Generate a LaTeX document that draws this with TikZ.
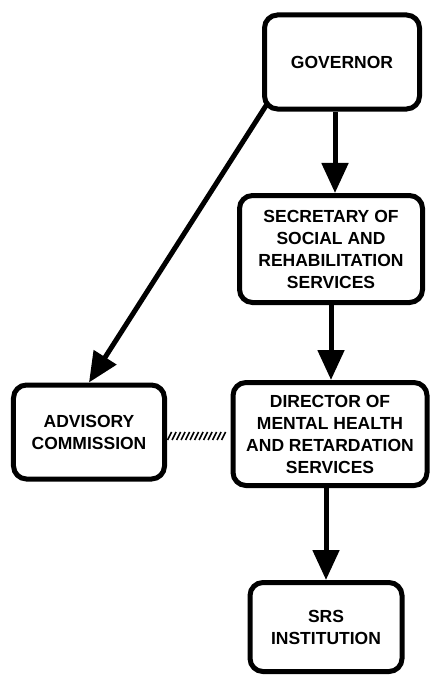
\documentclass[tikz,border=0pt]{standalone}
\usepackage{fontspec}
\setmainfont{Liberation Sans}
\usetikzlibrary{arrows.meta,decorations.markings}

\begin{document}
\begin{tikzpicture}[x=1bp,y=-1bp,
  b/.style={draw,line width=5bp,rounded corners=13bp,align=center,inner sep=2bp,font=\bfseries\fontsize{17.5bp}{22bp}\selectfont},
  ar/.style={line width=5bp,-{Triangle[length=30bp,width=26bp]}},
  hatch/.style={decorate,decoration={markings,mark=between positions 0.04 and 0.96 step 4.5bp with {\draw[line width=1.6bp] (-2bp,-4bp)--(2bp,4bp);}}}]
\useasboundingbox (0,0) rectangle (437,677);
\node[b,minimum width=155bp,minimum height=94bp] (gov) at (342,62) {GOVERNOR};
\node[b,minimum width=183bp,minimum height=107bp] (sec) at (331,249) {SECRETARY OF\\SOCIAL AND\\REHABILITATION\\SERVICES};
\node[b,minimum width=151bp,minimum height=94bp] (adv) at (89,432) {ADVISORY\\COMMISSION};
\node[b,minimum width=194bp,minimum height=103bp] (dir) at (330,434) {DIRECTOR OF\\MENTAL HEALTH\\AND RETARDATION\\SERVICES};
\node[b,minimum width=152bp,minimum height=89bp] (srs) at (326,627) {SRS\\INSTITUTION};
\draw[ar] ([xshift=-7bp]gov.south) -- ([xshift=-7bp]gov.south |- sec.north);
\draw[ar] ([shift={(6,-9)}]gov.south west) -- (adv.north);
\draw[ar] (sec.south) -- (sec.south |- dir.north);
\draw[ar] (srs.north |- dir.south) -- (srs.north);
\path[hatch] ([yshift=-4bp]adv.east) -- ([yshift=-4bp]adv.east -| dir.west);
\end{tikzpicture}
\end{document}
